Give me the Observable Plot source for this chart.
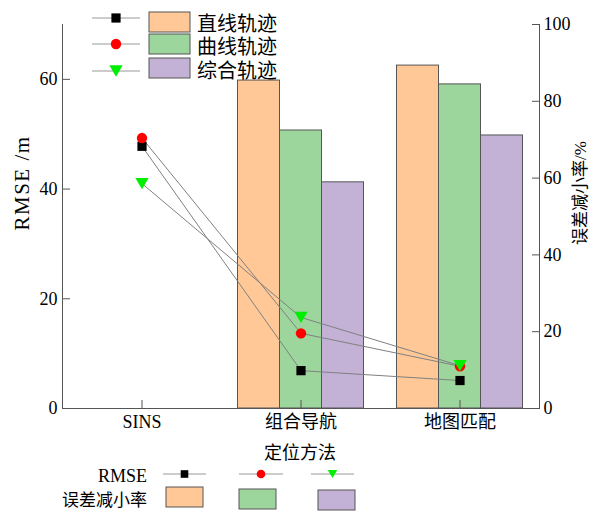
<!DOCTYPE html>
<html>
<head>
<meta charset="utf-8">
<script src="https://cdn.jsdelivr.net/npm/d3@7"></script>
<script src="https://cdn.jsdelivr.net/npm/@observablehq/plot@0.6"></script>
<style>
  html, body { margin: 0; padding: 0; background: #fff; }
  svg { display: block; }
</style>
</head>
<body>
<div id="chart"></div>
<script>
// ---- data ----
const categories = ["SINS", "组合导航", "地图匹配"];
const series = ["直线轨迹", "曲线轨迹", "综合轨迹"];
// RMSE (m), left axis
const rmseLine = [47.8, 6.9, 5.1];
const rmseCurve = [49.3, 13.7, 7.7];
const rmseMixed = [41.0, 16.6, 7.8];
// 误差减小率 (%), right axis
const rateLine = [null, 85.4, 89.3];
const rateCurve = [null, 72.4, 84.4];
const rateMixed = [null, 58.9, 71.1];
const rmseTicks = [0, 20, 40, 60];
const rateTicks = [0, 20, 40, 60, 80, 100];
const rmseMax = 70;
const rateMax = 100;

// ---- styles ----
const barColors = ["#FFC896", "#9CD69C", "#C3B1D6"];
const markColors = ["#000000", "#FF0000", "#00EE00"];
const FONT = "'Liberation Serif', 'Noto Sans CJK SC', serif";
const CJK = "'Noto Sans CJK SC', sans-serif";
const axisColor = "#555";

const triangleDown = {
  draw(context, size) {
    const w = Math.sqrt(size) * 1.25;
    const h = w * 0.85;
    context.moveTo(-w / 2, -h / 2);
    context.lineTo(w / 2, -h / 2);
    context.lineTo(0, h / 2);
    context.closePath();
  }
};
const symbols = ["square", "circle", triangleDown];
const rs = [5.2, 5.2, 6];

const rmseAll = [rmseLine, rmseCurve, rmseMixed];
const rateAll = [rateLine, rateCurve, rateMixed];
const toPct = v => v * rateMax / rmseMax;

const rows = categories.flatMap((c, i) => series.map((s, j) => ({
  category: c, series: s, j, rmse: rmseAll[j][i], rate: rateAll[j][i]
})));

const marks = [];
series.forEach((s, j) => {
  marks.push(Plot.barY(rows.filter(d => d.j === j && d.rate != null), {
    x: "category", y: "rate", fill: barColors[j], stroke: "#555", strokeWidth: 1,
    dx: (j - 1) * 42, insetLeft: 58.5, insetRight: 58.5
  }));
});
series.forEach((s, j) => {
  marks.push(Plot.line(rows.filter(d => d.j === j), {
    x: "category", y: d => toPct(d.rmse), stroke: "#808080", strokeWidth: 1
  }));
});
series.forEach((s, j) => {
  marks.push(Plot.dot(rows.filter(d => d.j === j), {
    x: "category", y: d => toPct(d.rmse), symbol: () => symbols[j], fill: markColors[j], stroke: "none", r: rs[j]
  }));
});

marks.push(
  Plot.axisY({anchor: "left", ticks: rmseTicks.map(toPct), tickFormat: d => Math.round(d * rmseMax / rateMax),
    tickSize: -8, tickPadding: 13, stroke: axisColor, fill: "#000", fontSize: 18, label: null}),
  Plot.axisY({anchor: "right", ticks: rateTicks, tickFormat: d => d,
    tickSize: -8, tickPadding: 12, stroke: axisColor, fill: "#000", fontSize: 18, label: null}),
  Plot.axisX({anchor: "bottom", tickSize: -8, tickPadding: 15, stroke: axisColor, fill: "#000", fontSize: 18, label: null}),
  Plot.frame({anchor: "left", stroke: axisColor}),
  Plot.frame({anchor: "right", stroke: axisColor}),
  Plot.frame({anchor: "bottom", stroke: axisColor})
);

const svg = Plot.plot({
  width: 595, height: 513,
  marginLeft: 62, marginRight: 56, marginTop: 24, marginBottom: 105,
  style: {fontFamily: FONT, fontSize: "18px", background: "#fff"},
  x: {type: "band", domain: categories, padding: 0},
  y: {domain: [0, rateMax]},
  symbol: {type: "identity"},
  marks
});
document.getElementById("chart").appendChild(svg);

// ---- titles & legends ----
const g = d3.select(svg).append("g").attr("text-anchor", "start");
g.append("text").attr("transform", "translate(22,183) rotate(-90)")
  .attr("text-anchor", "middle").attr("dominant-baseline", "central")
  .style("font-family", FONT).style("font-size", "21px").style("letter-spacing", "1.5px").text("RMSE /m");
g.append("text").attr("transform", "translate(580,193) rotate(-90)")
  .attr("text-anchor", "middle").attr("dominant-baseline", "central")
  .style("font-family", FONT).style("font-size", "17px").text("误差减小率/%");
g.append("text").attr("x", 300).attr("y", 451)
  .attr("text-anchor", "middle").attr("dominant-baseline", "central")
  .style("font-family", CJK).style("font-size", "18px").text("定位方法");

function markerSample(sel, j, cx, cy, r) {
  const sym = [d3.symbolSquare, d3.symbolCircle, triangleDown][j];
  sel.append("path").attr("transform", `translate(${cx},${cy})`)
    .attr("d", d3.symbol(sym, Math.PI * r * r)()).attr("fill", markColors[j]);
}

// top legend
const topRows = [{m: 18, r: 12, t: 22}, {m: 44, r: 34, t: 45}, {m: 71, r: 58, t: 69}];
series.forEach((s, j) => {
  const rw = topRows[j];
  g.append("line").attr("x1", 92).attr("x2", 140).attr("y1", rw.m).attr("y2", rw.m)
    .attr("stroke", "#999").attr("stroke-width", 1);
  markerSample(g, j, 116, rw.m, rs[j]);
  g.append("rect").attr("x", 149).attr("y", rw.r).attr("width", 41).attr("height", 20)
    .attr("fill", barColors[j]).attr("stroke", "#555");
  g.append("text").attr("x", 197).attr("y", rw.t).attr("text-anchor", "start").attr("dominant-baseline", "central")
    .style("font-family", CJK).style("font-size", "20px").text(s);
});

// bottom legend
g.append("text").attr("x", 147).attr("y", 476).attr("text-anchor", "end").attr("dominant-baseline", "central")
  .style("font-family", FONT).style("font-size", "18px").text("RMSE");
g.append("text").attr("x", 147).attr("y", 498).attr("text-anchor", "end").attr("dominant-baseline", "central")
  .style("font-family", CJK).style("font-size", "17px").text("误差减小率");
const lx = [[163, 206], [239, 283], [311, 354]];
const sx = [166, 239, 318];
const sy = [487, 489, 490];
series.forEach((s, j) => {
  g.append("line").attr("x1", lx[j][0]).attr("x2", lx[j][1]).attr("y1", 474).attr("y2", 474)
    .attr("stroke", "#999").attr("stroke-width", 1);
  markerSample(g, j, (lx[j][0] + lx[j][1]) / 2, 474, 4.3);
  g.append("rect").attr("x", sx[j]).attr("y", sy[j]).attr("width", 37).attr("height", 20)
    .attr("fill", barColors[j]).attr("stroke", "#555");
});
</script>
</body>
</html>
